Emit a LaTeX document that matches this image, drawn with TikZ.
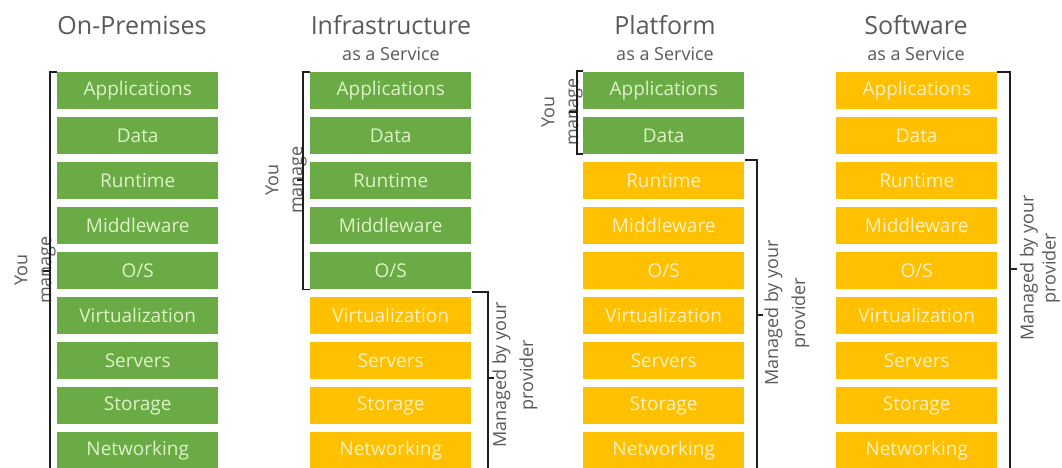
\documentclass[tikz,border=0pt]{standalone}
\usepackage{fontspec}
\setmainfont{Open Sans}
\usetikzlibrary{calc}
\definecolor{boxgreen}{HTML}{6AAB45}
\definecolor{boxgold}{HTML}{FFC000}
\definecolor{txtgreen}{HTML}{DDF3C6}
\definecolor{txtgold}{HTML}{FFF0C2}
\definecolor{titlegrey}{HTML}{5A5A5A}
\definecolor{brk}{HTML}{1E1E1E}
\tikzset{
  layer/.style={minimum width=161pt, minimum height=37pt, inner sep=0pt, anchor=north west,
    font=\fontsize{19}{22}\selectfont},
  title/.style={text=titlegrey, font=\fontsize{25}{29}\selectfont, inner sep=0pt},
  subtitle/.style={text=titlegrey, font=\fontsize{18}{21}\selectfont, inner sep=0pt},
  sideyou/.style={text=titlegrey, font=\fontsize{18}{24}\selectfont, align=center, rotate=90, inner sep=0pt},
  sideprov/.style={text=titlegrey, font=\fontsize{18}{27}\selectfont, align=center, rotate=90, inner sep=0pt},
  sideprovtight/.style={text=titlegrey, font=\fontsize{18}{22}\selectfont, align=center, rotate=90, inner sep=0pt},
  br/.style={draw=brk, line width=1.8pt}
}
\begin{document}
\begin{tikzpicture}[x=1pt,y=-1pt]
\useasboundingbox (0,0) rectangle (1062,468);
\clip (0,0) rectangle (1062,468);
\fill[white] (0,0) rectangle (1062,468);

% titles
\node[title] (t1) at (132,25) {On-Premises};
\node[title] (t2) at (391,25) {Infrastructure};
\node[subtitle] (s2) at (391,54) {as a Service};
\node[title] (t3) at (665,25) {Platform};
\node[subtitle] (s3) at (665,54) {as a Service};
\node[title] (t4) at (916,25) {Software};
\node[subtitle] (s4) at (916,54) {as a Service};

% layers
\foreach \lab [count=\i] in {Applications,Data,Runtime,Middleware,O/S,Virtualization,Servers,Storage,Networking}{
  \pgfmathsetmacro\yy{72+45*(\i-1)}
  % column 1: all managed by you
  \node[layer, fill=boxgreen, text=txtgreen] (c1-\i) at (57,\yy) {\lab};
  % column 2
  \ifnum\i<6 \colorlet{cf}{boxgreen}\colorlet{ct}{txtgreen}\else\colorlet{cf}{boxgold}\colorlet{ct}{txtgold}\fi
  \node[layer, fill=cf, text=ct] (c2-\i) at (310,\yy) {\lab};
  % column 3
  \ifnum\i<3 \colorlet{cf}{boxgreen}\colorlet{ct}{txtgreen}\else\colorlet{cf}{boxgold}\colorlet{ct}{txtgold}\fi
  \node[layer, fill=cf, text=ct] (c3-\i) at (583,\yy) {\lab};
  % column 4
  \node[layer, fill=boxgold, text=txtgold] (c4-\i) at (836,\yy) {\lab};
}

% side labels
\node[sideyou] (y1) at (35,270) {You\\manage};
\node[sideyou] (y2) at (286,180) {You\\manage};
\node[sideyou] (y3) at (562,112) {You\\manage};
\node[sideprov] (m2) at (515,375) {Managed by your\\provider};
\node[sideprov] (m3) at (787,313) {Managed by your\\provider};
\node[sideprovtight] (m4) at (1040,268) {Managed by your\\provider};

% brackets
\draw[br] (c1-1.north west) -- (50,72) -- (50,472);
\draw[br] (50,271) -- (43,271);

\draw[br] (c2-1.north west) -- (303,72) |- (c2-5.south west);
\draw[br] (303,180) -- (297,180);
\draw[br] (472,292) -- (488,292) -- (488,472);
\draw[br] (488,378) -- (494,378);

\draw[br] (583,71) -- (577,71) -- (577,154) -- (583,154);
\draw[br] (577,112) -- (569,112);
\draw[br] (745,160) -- (757,160) -- (757,472);
\draw[br] (757,315) -- (763,315);

\draw[br] (c4-1.north east) -- (1010,72) -- (1010,472);
\draw[br] (1010,269) -- (1017,269);
\end{tikzpicture}
\end{document}
